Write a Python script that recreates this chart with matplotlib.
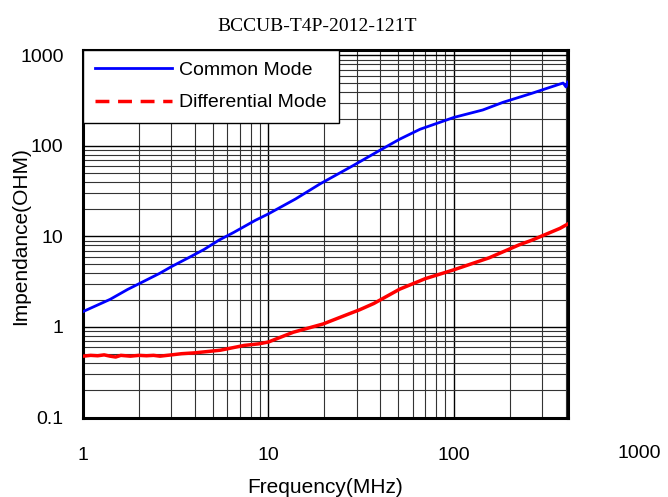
import matplotlib
matplotlib.use("Agg")
import matplotlib.pyplot as plt
from matplotlib.lines import Line2D

plt.rcParams['font.family'] = ['Liberation Sans', 'DejaVu Sans']

# data
cm_freq = [1, 1.4, 1.74, 2, 2.58, 3.0, 3.84, 4.5, 5.4, 6.5, 8.5, 10, 14, 19,
           28.5, 40, 51, 65.6, 100, 143, 184, 263, 373, 388, 402, 410]
cm_imp = [1.48, 2.02, 2.6, 3.0, 3.9, 4.65, 6.05, 7.2, 9.1, 11.1, 15.1, 17.8,
          26, 38.2, 60.5, 90, 119, 153, 207, 250, 304, 382, 484, 496, 449, 509]

dm_freq = [1, 1.1, 1.2, 1.3, 1.4, 1.5, 1.6, 1.8, 2.0, 2.2, 2.4, 2.6, 3.0, 3.4,
           4.0, 5.5, 7.4, 8.9, 10, 13.6, 19.7, 27, 31, 37, 51, 70, 100, 155,
           225, 263, 373, 410]
dm_imp = [0.476, 0.486, 0.481, 0.492, 0.476, 0.466, 0.486, 0.476, 0.486, 0.481,
          0.486, 0.476, 0.492, 0.507, 0.518, 0.554, 0.626, 0.652, 0.683, 0.875,
          1.08, 1.39, 1.55, 1.82, 2.62, 3.42, 4.29, 5.82, 8.1, 9.1, 12.3, 13.7]

x_ticks = [1, 10, 100]
x_labels = ['1', '10', '100']
y_ticks = [0.1, 1, 10, 100, 1000]
y_labels = ['0.1', '1', '10', '100', '1000']

fig = plt.figure(figsize=(6.68, 4.97), dpi=100)
ax = fig.add_axes([83 / 668, 1 - 417.5 / 497, 485 / 668, 367.5 / 497])

ax.plot(cm_freq, cm_imp, color='#0000ff', lw=2, zorder=3)
ax.plot(dm_freq, dm_imp, color='#ff0000', lw=2.5, zorder=3)

ax.set_xscale('log')
ax.set_yscale('log')
ax.set_xlim(1, 412)
ax.set_ylim(0.1, 1150)

# grid
ax.grid(True, which='major', color='black', lw=1)
ax.grid(True, which='minor', color='0.2', lw=0.8)

ax.set_xticks(x_ticks)
ax.set_xticklabels(x_labels)
ax.set_yticks(y_ticks)
ax.set_yticklabels(y_labels)
ax.tick_params(which='both', length=0, labelsize=14)
ax.tick_params(axis='x', pad=21)
ax.tick_params(axis='y', pad=14)
# the reference also labels 1000 on the x axis, past the right edge
ax.text(1000, -0.0975, '1000', transform=ax.get_xaxis_transform(), ha='center',
        va='center', fontsize=14, clip_on=False)

for s in ax.spines.values():
    s.set_linewidth(2.2)

ax.set_xlabel('Frequency(MHz)', fontsize=15, labelpad=10)
ax.set_ylabel('Impendance(OHM)', fontsize=15)
ax.yaxis.set_label_coords(-0.109, 0.493)
fig.text(0.475, 0.946, 'BCCUB-T4P-2012-121T', family='Liberation Serif',
         fontsize=14, ha='center', va='center')

handles = [Line2D([], [], color='#0000ff', lw=2),
           Line2D([], [], color='#ff0000', lw=2.5, ls=(0, (4, 2.5)))]
leg = ax.legend(handles, ['Common Mode', 'Differential Mode'], loc='upper left',
                bbox_to_anchor=(0, 1), borderaxespad=0, fancybox=False,
                framealpha=1, edgecolor='black', fontsize=14, handlelength=4.0,
                handletextpad=0.35, labelspacing=0.75, borderpad=0.6)
leg.get_frame().set_linewidth(1)

plt.savefig('out.png', dpi=100)
